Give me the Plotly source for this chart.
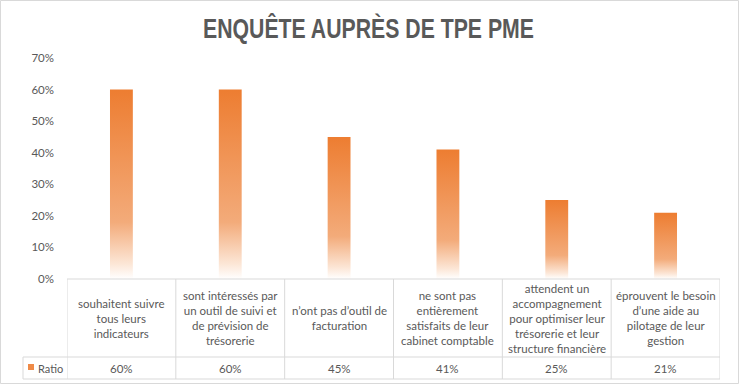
import plotly.graph_objects as go

# ---- data ----
categories = [
    "souhaitent suivre<br>tous leurs<br>indicateurs",
    "sont intéressés par<br>un outil de suivi et<br>de prévision de<br>trésorerie",
    "n’ont pas d’outil de<br>facturation",
    "ne sont pas<br>entièrement<br>satisfaits de leur<br>cabinet comptable",
    "attendent un<br>accompagnement<br>pour optimiser leur<br>trésorerie et leur<br>structure financière",
    "éprouvent le besoin<br>d’une aide au<br>pilotage de leur<br>gestion",
]
ratio = [0.60, 0.60, 0.45, 0.41, 0.25, 0.21]
series_name = "Ratio"
title_text = "ENQUÊTE AUPRÈS DE TPE PME"

# ---- layout constants (pixels) ----
W, H = 739, 386
L, R, T, B = 67, 19, 58, 107
PW = W - L - R
PH = H - T - B
ROW1 = 78   # height of category row
ROW2 = 22   # height of ratio row
BAR_W = 0.21
GRID = "#D9D9D9"
TXT = "#595959"
FONT = "Lato, 'Open Sans', 'Liberation Sans', sans-serif"

orange_scale = [[0, "#FFFFFF"], [0.08, "#FCE6D6"], [0.3, "#F3AB7A"], [1, "#ED7D31"]]

fig = go.Figure()
for i, v in enumerate(ratio):
    x0, x1 = i - BAR_W / 2, i + BAR_W / 2
    fig.add_trace(go.Scatter(
        x=[x0, x1, x1, x0, x0], y=[0, 0, v, v, 0],
        mode="lines", fill="toself", line=dict(width=0),
        fillgradient=dict(type="vertical", colorscale=orange_scale, start=0, stop=v),
        hoverinfo="skip", showlegend=False,
    ))

shapes = []
annotations = []

def py(px):  # pixels below plot bottom -> paper y
    return -px / PH

def px_x(px):  # absolute pixel x -> paper x
    return (px - L) / PW

# table horizontal lines
for yy in [0, ROW1, ROW1 + ROW2]:
    shapes.append(dict(type="line", xref="paper", yref="paper", x0=0, x1=1,
                       y0=py(yy), y1=py(yy), line=dict(color=GRID, width=1)))
# vertical lines
for k in range(len(categories) + 1):
    shapes.append(dict(type="line", xref="x", yref="paper", x0=k - 0.5, x1=k - 0.5,
                       y0=0, y1=py(ROW1 + ROW2), line=dict(color=GRID, width=1)))
# ratio label cell
lx = px_x(23)
shapes.append(dict(type="line", xref="paper", yref="paper", x0=lx, x1=0,
                   y0=py(ROW1), y1=py(ROW1), line=dict(color=GRID, width=1)))
shapes.append(dict(type="line", xref="paper", yref="paper", x0=lx, x1=0,
                   y0=py(ROW1 + ROW2), y1=py(ROW1 + ROW2), line=dict(color=GRID, width=1)))
shapes.append(dict(type="line", xref="paper", yref="paper", x0=lx, x1=lx,
                   y0=py(ROW1), y1=py(ROW1 + ROW2), line=dict(color=GRID, width=1)))
# legend key
shapes.append(dict(type="rect", xref="paper", yref="paper", x0=px_x(28), x1=px_x(34),
                   y0=py(ROW1 + 7), y1=py(ROW1 + 13), fillcolor="#EF8A47", line=dict(width=0)))
annotations.append(dict(xref="paper", yref="paper", x=px_x(36), y=py(ROW1 + ROW2 / 2),
                        text=series_name, showarrow=False, xanchor="left", yanchor="middle",
                        font=dict(family=FONT, size=11, color=TXT)))
# outer frame
shapes.append(dict(type="rect", xref="paper", yref="paper",
                   x0=px_x(0.5), x1=px_x(W - 0.5),
                   y0=py(B - 2.5), y1=1 + (T - 0.5) / PH,
                   line=dict(color=GRID, width=1)))

for i, (c, v) in enumerate(zip(categories, ratio)):
    annotations.append(dict(xref="x", yref="paper", x=i, y=py(ROW1 / 2), text=c,
                            showarrow=False, xanchor="center", yanchor="middle", align="center",
                            font=dict(family=FONT, size=11.5, color=TXT)))
    annotations.append(dict(xref="x", yref="paper", x=i, y=py(ROW1 + ROW2 / 2),
                            text=f"{round(v * 100)}%", showarrow=False,
                            xanchor="center", yanchor="middle",
                            font=dict(family=FONT, size=11.5, color=TXT)))

fig.update_layout(
    width=W, height=H,
    margin=dict(l=L, r=R, t=T, b=B, pad=0),
    paper_bgcolor="white", plot_bgcolor="white",
    showlegend=False,
    title=dict(text=f"<b>{title_text}</b>", x=368.5 / W, xanchor="center",
               y=1 - 28 / H, yanchor="middle", xref="container", yref="container",
               font=dict(family="'Liberation Sans', Arial, sans-serif", size=28, color=TXT)),
    shapes=shapes, annotations=annotations,
    xaxis=dict(range=[-0.5, len(categories) - 0.5], showticklabels=False, showgrid=False,
               zeroline=False, showline=False, fixedrange=True),
    yaxis=dict(range=[0, 0.7], dtick=0.1, tickformat=".0%", showgrid=False, zeroline=False,
               showline=False, ticks="", ticklabelstandoff=12,
               tickfont=dict(family=FONT, size=11.5, color=TXT), fixedrange=True),
)

post = """
document.body.style.margin = '0';
var t = document.querySelector('.gtitle');
if (t) { t.setAttribute('textLength', '331'); t.setAttribute('lengthAdjust', 'spacingAndGlyphs'); }
"""

fig.write_html("out.html", post_script=post, config={"displayModeBar": False, "staticPlot": True})
